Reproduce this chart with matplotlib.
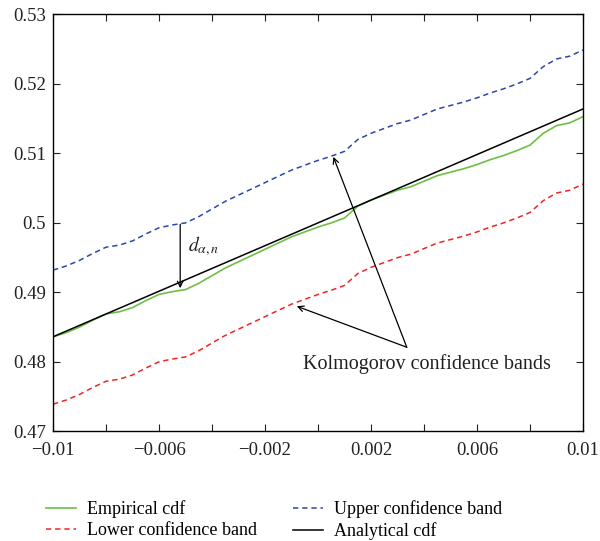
import numpy as np
import matplotlib
matplotlib.use("Agg")
import matplotlib.pyplot as plt

plt.rcParams['font.family'] = ['Liberation Serif', 'DejaVu Serif']
plt.rcParams['mathtext.fontset'] = 'stix'

# === Values ===
x = [-0.0100, -0.0095, -0.0090, -0.0085, -0.0080, -0.0075, -0.0070, -0.0065,
     -0.0060, -0.0055, -0.0050, -0.0045, -0.0040, -0.0035, -0.0030, -0.0025,
     -0.0020, -0.0015, -0.0010, -0.0005, 0.0000, 0.0005, 0.0010, 0.0015,
     0.0020, 0.0025, 0.0030, 0.0035, 0.0040, 0.0045, 0.0050, 0.0055,
     0.0060, 0.0065, 0.0070, 0.0075, 0.0080, 0.0085, 0.0090, 0.0095, 0.0100]

empirical = [0.4836, 0.4842, 0.4850, 0.4860, 0.4869, 0.4872, 0.4878, 0.4888,
             0.4897, 0.4901, 0.4904, 0.4913, 0.4924, 0.4935, 0.4944, 0.4953,
             0.4962, 0.4971, 0.4980, 0.4987, 0.4994, 0.5000, 0.5007, 0.5024,
             0.5033, 0.5040, 0.5047, 0.5052, 0.5060, 0.5068, 0.5073, 0.5078,
             0.5084, 0.5091, 0.5097, 0.5104, 0.5112, 0.5129, 0.5140, 0.5144, 0.5153]

upper = [0.4932, 0.4938, 0.4946, 0.4956, 0.4965, 0.4968, 0.4974, 0.4984,
         0.4993, 0.4997, 0.5000, 0.5009, 0.5020, 0.5031, 0.5040, 0.5049,
         0.5058, 0.5067, 0.5076, 0.5083, 0.5090, 0.5096, 0.5103, 0.5120,
         0.5129, 0.5136, 0.5143, 0.5148, 0.5156, 0.5164, 0.5169, 0.5174,
         0.5180, 0.5187, 0.5193, 0.5200, 0.5208, 0.5225, 0.5236, 0.5240, 0.5249]

lower = [0.4739, 0.4745, 0.4753, 0.4763, 0.4772, 0.4775, 0.4781, 0.4791,
         0.4800, 0.4804, 0.4807, 0.4816, 0.4827, 0.4838, 0.4847, 0.4856,
         0.4865, 0.4874, 0.4883, 0.4890, 0.4897, 0.4903, 0.4910, 0.4927,
         0.4936, 0.4943, 0.4950, 0.4955, 0.4963, 0.4971, 0.4976, 0.4981,
         0.4987, 0.4994, 0.5000, 0.5007, 0.5015, 0.5032, 0.5043, 0.5047, 0.5056]

analytical_x = [-0.01, 0.01]
analytical_y = [0.4836, 0.5164]

xticks = [-0.01, -0.008, -0.006, -0.004, -0.002, 0.0, 0.002, 0.004, 0.006, 0.008, 0.01]
xticklabels = ['\u22120.01', '', '\u22120.006', '', '\u22120.002', '', '0.002', '', '0.006', '', '0.01']
yticks = [0.47, 0.48, 0.49, 0.50, 0.51, 0.52, 0.53]
yticklabels = ['0.47', '0.48', '0.49', '0.5', '0.51', '0.52', '0.53']

fig = plt.figure(figsize=(6.0, 5.41), dpi=100)
ax = fig.add_axes([0.0883, 0.2028, 0.8834, 0.7704])

l_emp, = ax.plot(x, empirical, color='#6dbf45', lw=1.2, label='Empirical cdf')
l_low, = ax.plot(x, lower, color='#f02424', lw=1.1, ls=(0, (3.5, 2.5)), label='Lower confidence band')
l_up, = ax.plot(x, upper, color='#2a48a6', lw=1.1, ls=(0, (3.5, 2.5)), label='Upper confidence band')
l_an, = ax.plot(analytical_x, analytical_y, color='black', lw=1.1, label='Analytical cdf')

ax.set_xlim(-0.01, 0.01)
ax.set_ylim(0.47, 0.53)
ax.set_xticks(xticks)
ax.set_xticklabels(xticklabels)
ax.set_yticks(yticks)
ax.set_yticklabels(yticklabels)
ax.tick_params(direction='in', top=True, right=True, length=5, width=0.8,
               labelsize=13.5, colors='#222222')
ax.tick_params(axis='x', pad=8)
ax.tick_params(axis='y', pad=5)
for sp in ax.spines.values():
    sp.set_linewidth(1.0)

# === Annotations ===
arrow = dict(arrowstyle='->', color='black', lw=0.9, shrinkA=0, shrinkB=0)
ax.annotate('', xy=(-0.0052, 0.4906), xytext=(-0.0052, 0.4998), arrowprops=arrow)
ax.text(-0.0049, 0.4967, r'$d_{\alpha,n}$', fontsize=14, va='center', ha='left', color='#222222')

base = (0.00335, 0.4821)
ax.annotate('', xy=(0.00058, 0.5095), xytext=base, arrowprops=arrow)
ax.annotate('', xy=(-0.0008, 0.4880), xytext=base, arrowprops=arrow)
ax.text(0.0041, 0.4797, 'Kolmogorov confidence bands', fontsize=14.5,
        ha='center', va='center', color='#222222')

fig.legend([l_emp, l_low, l_up, l_an],
           ['Empirical cdf', 'Lower confidence band', 'Upper confidence band', 'Analytical cdf'],
           ncol=2, frameon=False, loc='lower left', bbox_to_anchor=(0.05, -0.028),
           fontsize=13, handlelength=1.65, columnspacing=2.0, labelspacing=0.2,
           handletextpad=0.6)

plt.savefig('out.png', dpi=100)
